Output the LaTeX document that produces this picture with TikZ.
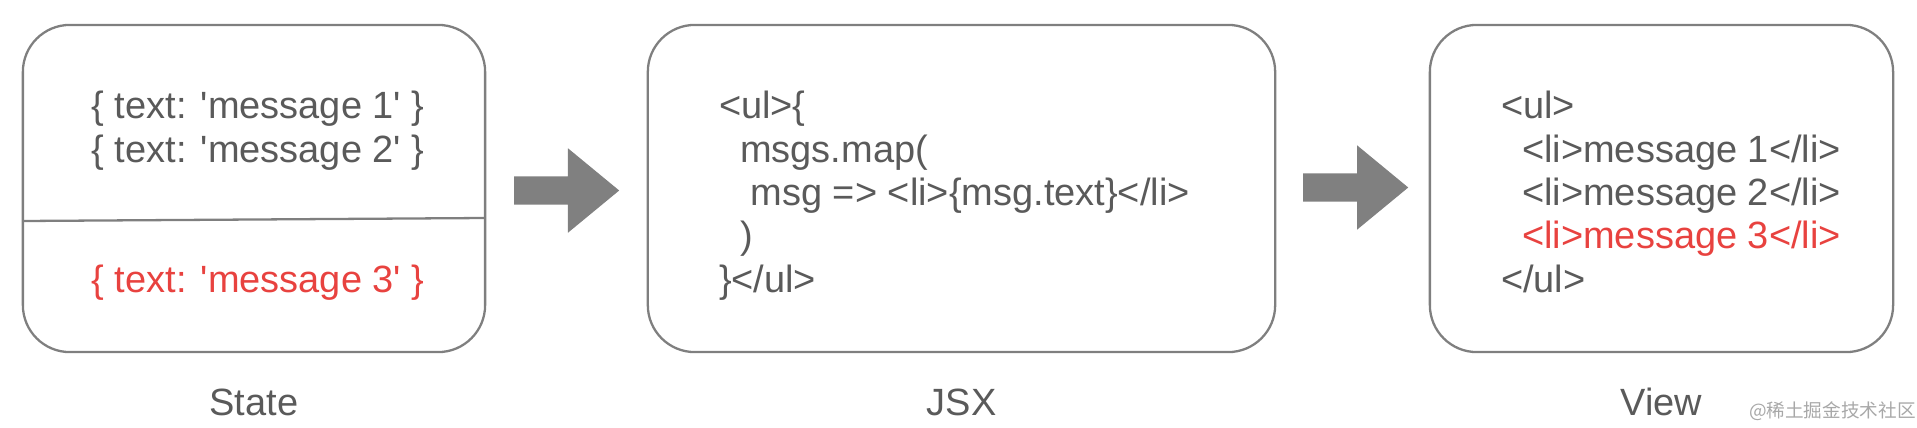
\documentclass[tikz,border=0pt]{standalone}
\usepackage{fontspec}
\setmainfont{Liberation Sans}
\newfontfamily\cjkfont{Noto Sans CJK SC}
\usetikzlibrary{calc,shapes.arrows}
\definecolor{codegray}{HTML}{5A5A5A}
\definecolor{codered}{HTML}{E8423F}
\definecolor{boxgray}{HTML}{7F7F7F}
\definecolor{arrowgray}{HTML}{808080}
\definecolor{markgray}{HTML}{A8A8A8}
\newcommand{\sq}{\textquotesingle}

\begin{document}
\begin{tikzpicture}[
		x=0.01cm, y=-0.01cm,
		every node/.style={inner sep=0pt, outer sep=0pt},
		panel/.style={draw=boxgray, line width=0.65pt, rounded corners=0.47cm, minimum height=3.27cm},
		divider/.style={draw=boxgray, line width=0.65pt},
		code/.style={text=codegray, font=\fontsize{10.8}{12.3}\selectfont, align=left, anchor=base west},
		caption/.style={text=codegray, font=\fontsize{10.8}{12.3}\selectfont, anchor=base},
		blockarrow/.style={single arrow, fill=arrowgray, minimum height=1.05cm, minimum width=0.83cm,
			inner ysep=0.135cm, inner xsep=0pt, single arrow head extend=0.28cm, single arrow tip angle=79, anchor=tail},
		watermark/.style={text=markgray, font=\fontsize{5.3}{6}\cjkfont, anchor=west}
	]
	\useasboundingbox (0,0) rectangle (1917,427);
	\node[panel, minimum width=4.62cm] (state) at (254,188.5) {};
	\node[panel, minimum width=6.27cm] (jsx) at (961.5,188.5) {};
	\node[panel, minimum width=4.63cm] (view) at (1661.5,188.5) {};
	\draw[divider] ($(state.west)+(0,32.5)$) -- ($(state.east)+(0,29.5)$);
	\node[code, align=center, anchor=base] (oldmsgs) at (258,162) {\{ text: \sq message 1\sq\ \}\\\{ text: \sq message 2\sq\ \}};
	\node[code, align=center, anchor=base, text=codered] (newmsg) at (258,292) {\{ text: \sq message 3\sq\ \}};
	\node[code] (jsxcode) at (719,292) {<ul>\{\\\ \ msgs.map(\\\ \ \ msg => <li>\{msg.text\}</li>\\\ \ )\\\}</ul>};
	\node[code] (viewcode) at (1501,292) {<ul>\\\ \ <li>message 1</li>\\\ \ <li>message 2</li>\\\ \ \textcolor{codered}{<li>message 3</li>}\\</ul>};
	\node[blockarrow] (arrow1) at ($(state.east)+(29,2)$) {};
	\node[blockarrow] (arrow2) at ($(jsx.east)+(28,-1)$) {};
	\node[caption] (statecap) at ($(state.south)+(0,63)$) {State};
	\node[caption] (jsxcap) at ($(jsx.south)+(0,63)$) {JSX};
	\node[caption] (viewcap) at ($(view.south)+(0,63)$) {View};
	\node[watermark] (wm) at (1749,411) {@稀土掘金技术社区};
\end{tikzpicture}
\end{document}
